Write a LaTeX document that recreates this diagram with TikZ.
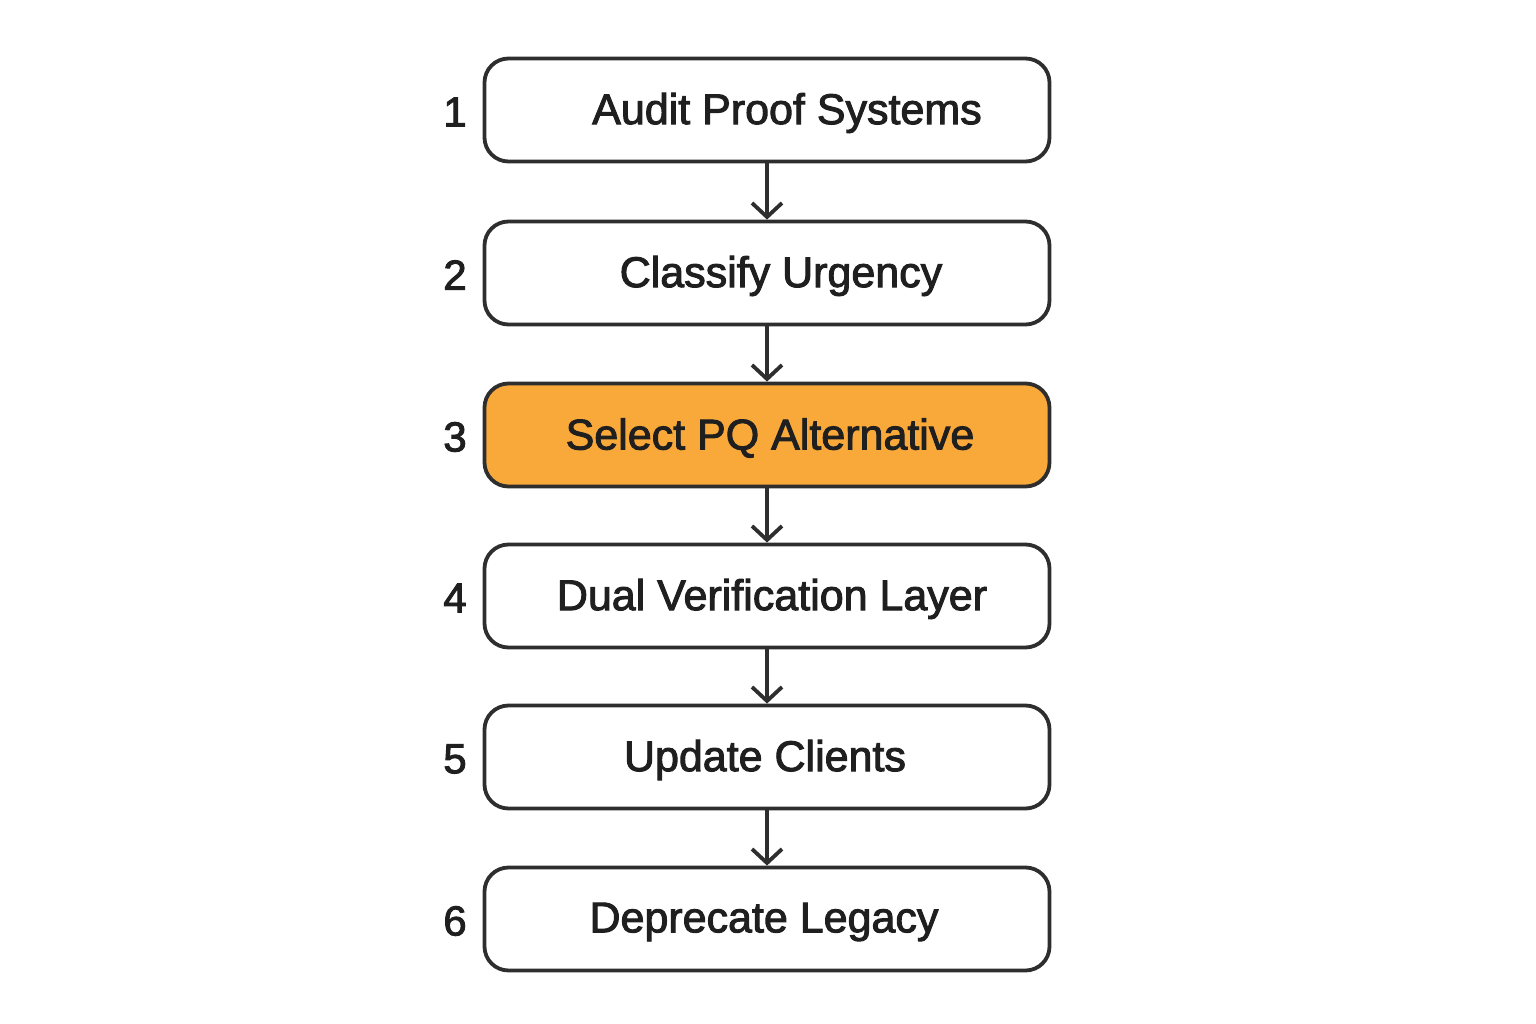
\documentclass[tikz,border=0pt]{standalone}
\usepackage{fontspec}
\setmainfont{Liberation Sans}[FakeBold=2.2]
\usetikzlibrary{arrows.meta}
\definecolor{edge}{HTML}{2E2E2E}
\definecolor{hl}{HTML}{F9A93A}
\begin{document}
\begin{tikzpicture}[x=1pt,y=-1pt,
  stepbox/.style={draw=edge,line width=3.8pt,rounded corners=24pt,minimum width=565pt,minimum height=103pt,fill=white},
  lbl/.style={font=\fontsize{43}{45}\selectfont,text=black!88,yshift=-3pt},
  num/.style={font=\fontsize{42}{44}\selectfont,text=black!88,yshift=-2pt},
  conn/.style={draw=edge,line width=3.8pt,-{Straight Barb[length=14pt,width=30pt,line width=3.8pt]}}]
\useasboundingbox[fill=white] (0,0) rectangle (1536,1024);
\foreach \i/\y in {1/110,2/273,3/435,4/596,5/757,6/919}{
  \node[num] (n\i) at (455,\y) {\i};
}
\node[stepbox] (b1) at (767,110) {};
\node[stepbox] (b2) at (767,273) {};
\node[stepbox,fill=hl] (b3) at (767,435) {};
\node[stepbox] (b4) at (767,596) {};
\node[stepbox] (b5) at (767,757) {};
\node[stepbox] (b6) at (767,919) {};
\node[lbl] (t1) at (787,110) {Audit Proof Systems};
\node[lbl] (t2) at (781,273) {Classify Urgency};
\node[lbl] (t3) at (770,435) {Select PQ Alternative};
\node[lbl] (t4) at (772,596) {Dual Verification Layer};
\node[lbl] (t5) at (765,757) {Update Clients};
\node[lbl] (t6) at (764,919) {Deprecate Legacy};
\foreach \a/\b in {1/2,2/3,3/4,4/5,5/6}{
  \draw[conn] (b\a.south) -- (b\b.north);
}
\end{tikzpicture}
\end{document}
